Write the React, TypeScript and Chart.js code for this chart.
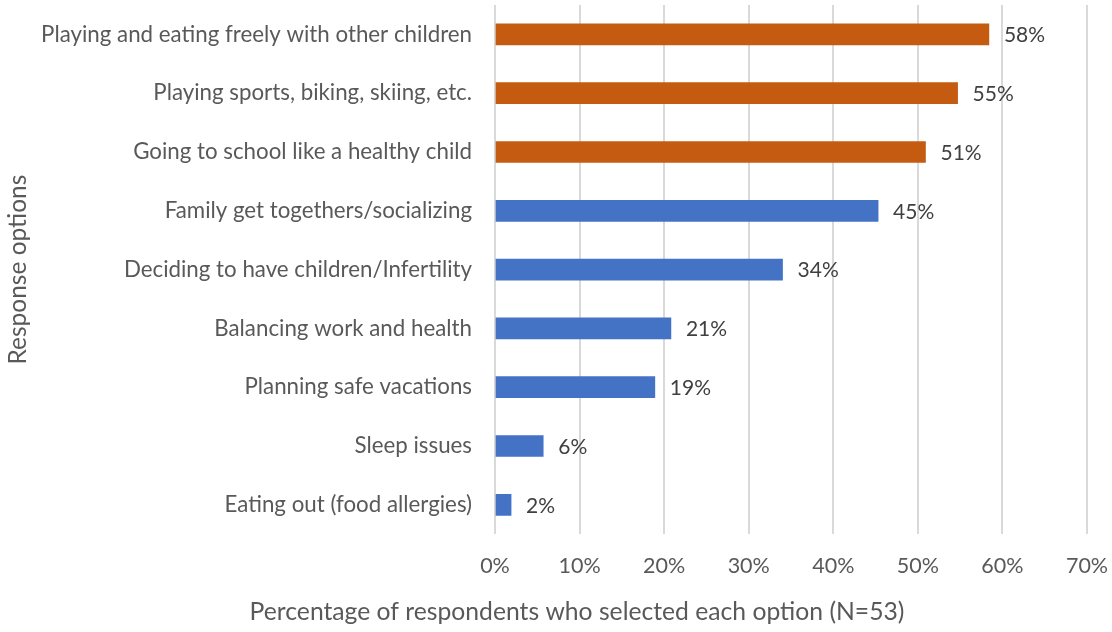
import React, { useEffect, useRef } from "react";
import { Chart, registerables } from "chart.js";

Chart.register(...registerables);

const categories = [
  "Playing and eating freely with other children",
  "Playing sports, biking, skiing, etc.",
  "Going to school like a healthy child",
  "Family get togethers/socializing",
  "Deciding to have children/Infertility",
  "Balancing work and health",
  "Planning safe vacations",
  "Sleep issues",
  "Eating out (food allergies)",
];
const percentages = [58.4, 54.7, 50.9, 45.3, 34.0, 20.8, 18.9, 5.7, 1.9];
const highlighted = [true, true, true, false, false, false, false, false, false];
const xTicks = [0, 10, 20, 30, 40, 50, 60, 70];
const xTitle = "Percentage of respondents who selected each option (N=53)";
const yTitle = "Response options";

const ORANGE = "#C55A11";
const BLUE = "#4472C4";
const FONT = "Lato, 'Open Sans', sans-serif";

const valueLabels = {
  id: "valueLabels",
  afterDatasetsDraw(chart: any) {
    const ctx = chart.ctx;
    const meta = chart.getDatasetMeta(0);
    ctx.save();
    ctx.font = `21px ${FONT}`;
    ctx.fillStyle = "#404040";
    ctx.textAlign = "left";
    ctx.textBaseline = "middle";
    meta.data.forEach((bar: any, i: number) => {
      const v = chart.data.datasets[0].data[i] as number;
      ctx.fillText(`${Math.round(v)}%`, bar.x + 15, bar.y + 1);
    });
    ctx.restore();
  },
};

const xTitlePlugin = {
  id: "xTitlePlugin",
  afterDraw(chart: any) {
    const ctx = chart.ctx;
    ctx.save();
    ctx.font = `24.7px ${FONT}`;
    ctx.fillStyle = "#595959";
    ctx.textAlign = "center";
    ctx.textBaseline = "middle";
    ctx.fillText(xTitle, chart.width / 2 + 21, chart.height - 20);
    ctx.restore();
  },
};

export default function App() {
  const ref = useRef<HTMLCanvasElement>(null);
  useEffect(() => {
    if (!ref.current) return;
    const chart = new Chart(ref.current, {
      type: "bar",
      data: {
        labels: categories,
        datasets: [
          {
            data: percentages,
            backgroundColor: highlighted.map((h) => (h ? ORANGE : BLUE)),
            barThickness: 21,
          },
        ],
      },
      plugins: [valueLabels, xTitlePlugin],
      options: {
        indexAxis: "y",
        animation: false,
        responsive: false,
        maintainAspectRatio: false,
        layout: { padding: { top: 5, right: 25, left: 0, bottom: 49 } },
        plugins: { legend: { display: false }, tooltip: { enabled: false } },
        scales: {
          x: {
            min: 0,
            max: 70,
            afterBuildTicks: (scale: any) => {
              scale.ticks = xTicks.map((v) => ({ value: v }));
            },
            afterFit: (scale: any) => {
              scale.paddingLeft = 0;
              scale.paddingRight = 0;
            },
            grid: {
              color: "#D9D9D9",
              lineWidth: 2,
              tickLength: 15,
              drawTicks: true,
              tickColor: "rgba(0,0,0,0)",
            },
            border: { display: false },
            ticks: {
              color: "#595959",
              font: { family: FONT, size: 21.5 },
              padding: 4,
              callback: (v: any) => `${v}%`,
              maxRotation: 0,
            },
            title: { display: false },
          },
          y: {
            afterFit: (scale: any) => {
              scale.width = 495;
              scale.paddingTop = 0;
              scale.paddingBottom = 0;
            },
            grid: {
              display: true,
              drawOnChartArea: false,
              drawTicks: true,
              tickLength: 20,
              tickColor: "rgba(0,0,0,0)",
              color: "rgba(0,0,0,0)",
            },
            border: { display: false },
            ticks: {
              color: "#595959",
              font: { family: FONT, size: 22.3 },
              padding: 3,
            },
            title: {
              display: true,
              text: yTitle,
              color: "#595959",
              font: { family: FONT, size: 24.5 },
              padding: { top: 3, bottom: 0 },
            },
          },
        },
      },
    });
    return () => chart.destroy();
  }, []);
  return (
    <div style={{ position: "fixed", left: 0, top: 0, width: 1112, height: 632, background: "#fff" }}>
      <canvas ref={ref} width={1112} height={632} style={{ width: 1112, height: 632 }} />
    </div>
  );
}
